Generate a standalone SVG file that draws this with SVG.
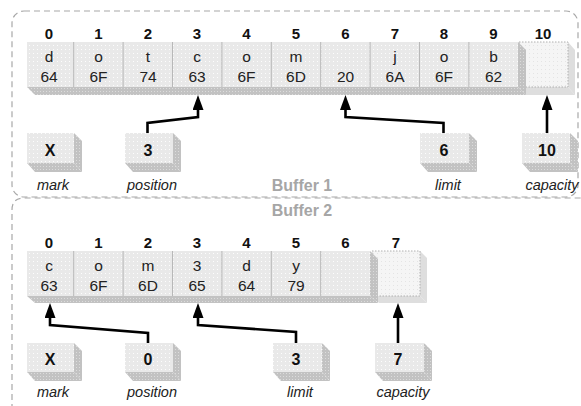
<svg xmlns="http://www.w3.org/2000/svg" width="581" height="406" viewBox="0 0 581 406">
<defs>
<pattern id="dotFace" width="4" height="4" patternUnits="userSpaceOnUse">
<rect width="4" height="4" fill="#e9e9e9"/>
<rect x="1" y="1" width="1" height="1" fill="#fdfdfd"/>
</pattern>
<pattern id="dotSide" width="3" height="3" patternUnits="userSpaceOnUse">
<rect width="3" height="3" fill="#c2c2c2"/>
<rect x="1" y="1" width="1" height="1" fill="#dcdcdc"/>
</pattern>
<pattern id="dotLight" width="4" height="4" patternUnits="userSpaceOnUse">
<rect width="4" height="4" fill="#f5f5f5"/>
<rect x="1" y="1" width="1" height="1" fill="#e4e4e4"/>
</pattern>
<marker id="ah" markerUnits="userSpaceOnUse" markerWidth="15" markerHeight="11" refX="10" refY="5.5" orient="auto" viewBox="0 0 15 11">
<path d="M0,0 L15,5.5 L0,11 z" fill="#000"/>
</marker>
</defs>
<style>
.frame{fill:none;stroke:#a8a8a8;stroke-width:1.2;stroke-dasharray:6 4}
.title{font-family:"Liberation Sans",Arial,sans-serif;font-weight:bold;font-size:16px;fill:#a6a6a6;text-anchor:middle}
.idx{font-family:"Liberation Sans",Arial,sans-serif;font-weight:bold;font-size:15px;fill:#111;text-anchor:middle}
.cv{font-family:"Liberation Sans",Arial,sans-serif;font-size:15.5px;fill:#222;text-anchor:middle}
.pv{font-family:"Liberation Sans",Arial,sans-serif;font-weight:bold;font-size:16px;fill:#111;text-anchor:middle}
.lbl{font-family:"Liberation Sans",Arial,sans-serif;font-style:italic;font-size:14.5px;fill:#222;text-anchor:middle}
.face{fill:url(#dotFace)}
.side{fill:url(#dotSide)}
.div{stroke:#b8b8b8;stroke-width:1}
.cap{fill:url(#dotLight);stroke:#b0b0b0;stroke-width:1;stroke-dasharray:1.5 1.5}
.capside{fill:#dedede}
.conn{fill:none;stroke:#000;stroke-width:2.6;stroke-linejoin:miter;marker-end:url(#ah)}
</style>

<!-- frames -->
<rect class="frame" x="12" y="11" width="566" height="186" rx="12"/>
<path class="frame" d="M12,420 V210 Q12,198 24,198 H581"/>
<text class="title" x="302" y="191">Buffer 1</text>
<text class="title" x="302" y="216">Buffer 2</text>

<!-- Buffer 1 -->
<g id="b1-index">
<text class="idx" x="49" y="38.5">0</text>
<text class="idx" x="98.5" y="38.5">1</text>
<text class="idx" x="148" y="38.5">2</text>
<text class="idx" x="197" y="38.5">3</text>
<text class="idx" x="246.5" y="38.5">4</text>
<text class="idx" x="296" y="38.5">5</text>
<text class="idx" x="345.5" y="38.5">6</text>
<text class="idx" x="395" y="38.5">7</text>
<text class="idx" x="444" y="38.5">8</text>
<text class="idx" x="493.5" y="38.5">9</text>
<text class="idx" x="543" y="38.5">10</text>
</g>
<g id="b1-capacity-cell">
<polygon class="capside" points="519,87 568,87 575,95 526,95"/>
<polygon class="capside" points="568,42 575,50 575,95 568,87"/>
<rect class="cap" x="519" y="42" width="49" height="45"/>
</g>
<g id="b1-cells">
<polygon class="side" points="27,87 518,87 526,95 35,95"/>
<polygon class="side" points="518,42 526,50 526,95 518,87"/>
<rect class="face" x="27" y="42" width="491" height="45"/>
<line class="div" x1="73.7" y1="42" x2="73.7" y2="87"/>
<line class="div" x1="123.1" y1="42" x2="123.1" y2="87"/>
<line class="div" x1="172.5" y1="42" x2="172.5" y2="87"/>
<line class="div" x1="221.9" y1="42" x2="221.9" y2="87"/>
<line class="div" x1="271.3" y1="42" x2="271.3" y2="87"/>
<line class="div" x1="320.7" y1="42" x2="320.7" y2="87"/>
<line class="div" x1="370.1" y1="42" x2="370.1" y2="87"/>
<line class="div" x1="419.5" y1="42" x2="419.5" y2="87"/>
<line class="div" x1="468.9" y1="42" x2="468.9" y2="87"/>
<text class="cv" x="49" y="62">d</text><text class="cv" x="49" y="81.5">64</text>
<text class="cv" x="98.5" y="62">o</text><text class="cv" x="98.5" y="81.5">6F</text>
<text class="cv" x="148" y="62">t</text><text class="cv" x="148" y="81.5">74</text>
<text class="cv" x="197" y="62">c</text><text class="cv" x="197" y="81.5">63</text>
<text class="cv" x="246.5" y="62">o</text><text class="cv" x="246.5" y="81.5">6F</text>
<text class="cv" x="296" y="62">m</text><text class="cv" x="296" y="81.5">6D</text>
<text class="cv" x="345.5" y="81.5">20</text>
<text class="cv" x="395" y="62">j</text><text class="cv" x="395" y="81.5">6A</text>
<text class="cv" x="444" y="62">o</text><text class="cv" x="444" y="81.5">6F</text>
<text class="cv" x="493.5" y="62">b</text><text class="cv" x="493.5" y="81.5">62</text>
</g>
<g id="b1-mark">
<polygon class="side" points="27,163 74,163 82,172 35,172"/>
<polygon class="side" points="74,133 82,141 82,172 74,163"/>
<rect class="face" x="27" y="133" width="47" height="30"/>
<text class="pv" x="50" y="156">X</text>
<text class="lbl" x="53" y="190">mark</text>
</g>
<g id="b1-position">
<polygon class="side" points="125,163 173,163 181,172 133,172"/>
<polygon class="side" points="173,133 181,141 181,172 173,163"/>
<rect class="face" x="125" y="133" width="48" height="30"/>
<text class="pv" x="148" y="156">3</text>
<text class="lbl" x="152" y="190">position</text>
</g>
<g id="b1-limit">
<polygon class="side" points="420,163 469,163 477,172 428,172"/>
<polygon class="side" points="469,133 477,141 477,172 469,163"/>
<rect class="face" x="420" y="133" width="49" height="30"/>
<text class="pv" x="444" y="156">6</text>
<text class="lbl" x="448" y="190">limit</text>
</g>
<g id="b1-capacity">
<polygon class="side" points="522,163 570,163 578,172 530,172"/>
<polygon class="side" points="570,133 578,141 578,172 570,163"/>
<rect class="face" x="522" y="133" width="48" height="30"/>
<text class="pv" x="547" y="156">10</text>
<text class="lbl" x="552" y="190">capacity</text>
</g>

<!-- Buffer 2 -->
<g id="b2-index">
<text class="idx" x="49" y="247.5">0</text>
<text class="idx" x="98.5" y="247.5">1</text>
<text class="idx" x="148" y="247.5">2</text>
<text class="idx" x="197" y="247.5">3</text>
<text class="idx" x="246.5" y="247.5">4</text>
<text class="idx" x="296" y="247.5">5</text>
<text class="idx" x="345.5" y="247.5">6</text>
<text class="idx" x="396" y="247.5">7</text>
</g>
<g id="b2-capacity-cell">
<polygon class="capside" points="372,296 420,296 427,303 379,303"/>
<polygon class="capside" points="420,251 427,258 427,303 420,296"/>
<rect class="cap" x="372" y="251" width="48" height="45"/>
</g>
<g id="b2-cells">
<polygon class="side" points="27,296 370,296 378,303 35,303"/>
<polygon class="side" points="370,251 378,259 378,303 370,296"/>
<rect class="face" x="27" y="251" width="343" height="45"/>
<line class="div" x1="73.7" y1="251" x2="73.7" y2="296"/>
<line class="div" x1="123.1" y1="251" x2="123.1" y2="296"/>
<line class="div" x1="172.5" y1="251" x2="172.5" y2="296"/>
<line class="div" x1="221.9" y1="251" x2="221.9" y2="296"/>
<line class="div" x1="271.3" y1="251" x2="271.3" y2="296"/>
<line class="div" x1="320.7" y1="251" x2="320.7" y2="296"/>
<text class="cv" x="49" y="271">c</text><text class="cv" x="49" y="290.5">63</text>
<text class="cv" x="98.5" y="271">o</text><text class="cv" x="98.5" y="290.5">6F</text>
<text class="cv" x="148" y="271">m</text><text class="cv" x="148" y="290.5">6D</text>
<text class="cv" x="197" y="271">3</text><text class="cv" x="197" y="290.5">65</text>
<text class="cv" x="246.5" y="271">d</text><text class="cv" x="246.5" y="290.5">64</text>
<text class="cv" x="296" y="271">y</text><text class="cv" x="296" y="290.5">79</text>
</g>
<g id="b2-mark">
<polygon class="side" points="27,372 74,372 82,381 35,381"/>
<polygon class="side" points="74,343 82,351 82,381 74,372"/>
<rect class="face" x="27" y="343" width="47" height="29"/>
<text class="pv" x="50" y="365">X</text>
<text class="lbl" x="53" y="397">mark</text>
</g>
<g id="b2-position">
<polygon class="side" points="125,372 173,372 181,381 133,381"/>
<polygon class="side" points="173,343 181,351 181,381 173,372"/>
<rect class="face" x="125" y="343" width="48" height="29"/>
<text class="pv" x="148" y="365">0</text>
<text class="lbl" x="152" y="397">position</text>
</g>
<g id="b2-limit">
<polygon class="side" points="273,372 322,372 330,381 281,381"/>
<polygon class="side" points="322,343 330,351 330,381 322,372"/>
<rect class="face" x="273" y="343" width="49" height="29"/>
<text class="pv" x="296" y="365">3</text>
<text class="lbl" x="300" y="397">limit</text>
</g>
<g id="b2-capacity">
<polygon class="side" points="375,372 424,372 432,381 383,381"/>
<polygon class="side" points="424,343 432,351 432,381 424,372"/>
<rect class="face" x="375" y="343" width="49" height="29"/>
<text class="pv" x="398" y="365">7</text>
<text class="lbl" x="403" y="397">capacity</text>
</g>

<!-- connectors -->
<g id="connectors">
<path class="conn" d="M147.5,133 V123 L198,117 V100"/>
<path class="conn" d="M443.5,133 V123 L345.5,117 V100"/>
<path class="conn" d="M547,133 V100"/>
<path class="conn" d="M148,343 V333 L50,325 V308"/>
<path class="conn" d="M296,343 V332 L198,325 V308"/>
<path class="conn" d="M398,343 V308"/>
</g>
</svg>
